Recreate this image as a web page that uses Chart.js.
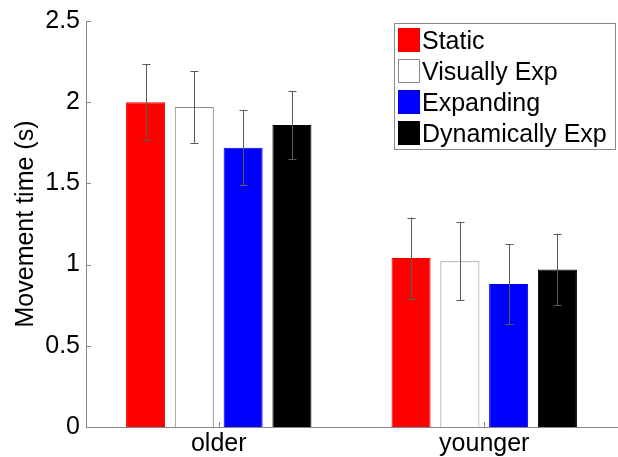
<!DOCTYPE html>
<html>
<head>
<meta charset="utf-8">
<script src="https://cdn.jsdelivr.net/npm/chart.js@4.4.0/dist/chart.umd.min.js"></script>
<style>
  html, body { margin: 0; padding: 0; background: #fff; }
  #wrap { width: 618px; height: 457px; }
</style>
</head>
<body>
<div id="wrap"><canvas id="chart" width="618" height="457"></canvas></div>
<script>
// categories et séries
var groups = ["older", "younger"];
var seriesNames = ["Static", "Visually Exp", "Expanding", "Dynamically Exp"];
var staticVals = [2.00, 1.04];
var visualVals = [1.97, 1.02];
var expandVals = [1.72, 0.88];
var dynamicVals = [1.86, 0.97];
// erreurs (demi-hauteur des barres d'erreur)
var staticErr = [0.235, 0.25];
var visualErr = [0.22, 0.24];
var expandErr = [0.23, 0.245];
var dynamicErr = [0.21, 0.22];
var yTicks = [0, 0.5, 1, 1.5, 2, 2.5];

var fills = ["#ff0000", "#ffffff", "#0000ff", "#000000"];
var borders = ["#ee0000", "#8a8a8a", "#0000c8", "#000000"];
var allVals = [staticVals, visualVals, expandVals, dynamicVals];
var allErr = [staticErr, visualErr, expandErr, dynamicErr];

var FONT = "'Liberation Sans', Arial, sans-serif";

var datasets = seriesNames.map(function (name, i) {
  return {
    label: name,
    data: allVals[i],
    err: allErr[i],
    backgroundColor: fills[i],
    borderColor: borders[i],
    borderWidth: 1,
    barPercentage: 0.8,
    categoryPercentage: 0.735
  };
});

// barres d'erreur + petites graduations vers l'intérieur
var errorBars = {
  id: "errorBars",
  afterDatasetsDraw: function (chart) {
    var ctx = chart.ctx;
    var y = chart.scales.y;
    ctx.save();
    ctx.strokeStyle = "#5a5a5a";
    ctx.lineWidth = 1;
    chart.data.datasets.forEach(function (ds, di) {
      var meta = chart.getDatasetMeta(di);
      meta.data.forEach(function (bar, i) {
        var x = Math.round(bar.x) + 0.5;
        var top = y.getPixelForValue(ds.data[i] + ds.err[i]);
        var bot = y.getPixelForValue(ds.data[i] - ds.err[i]);
        ctx.beginPath();
        ctx.moveTo(x, top);
        ctx.lineTo(x, bot);
        ctx.moveTo(x - 4, Math.round(top) + 0.5);
        ctx.lineTo(x + 4, Math.round(top) + 0.5);
        ctx.moveTo(x - 4, Math.round(bot) + 0.5);
        ctx.lineTo(x + 4, Math.round(bot) + 0.5);
        ctx.stroke();
      });
    });
    // graduations
    var area = chart.chartArea;
    ctx.strokeStyle = "#888888";
    yTicks.forEach(function (v) {
      var py = Math.round(y.getPixelForValue(v)) + 0.5;
      ctx.beginPath();
      ctx.moveTo(area.left, py);
      ctx.lineTo(area.left + 5, py);
      ctx.stroke();
    });
    var xs = chart.scales.x;
    groups.forEach(function (g, i) {
      var px = Math.round(xs.getPixelForValue(i)) + 0.5;
      ctx.beginPath();
      ctx.moveTo(px, area.bottom);
      ctx.lineTo(px, area.bottom - 5);
      ctx.stroke();
    });
    ctx.restore();
  }
};

// légende dans le coin en haut à droite
var boxLegend = {
  id: "boxLegend",
  afterDraw: function (chart) {
    var ctx = chart.ctx;
    var left = 394, top = 23, w = 221, h = 126;
    ctx.save();
    ctx.fillStyle = "#ffffff";
    ctx.fillRect(left, top, w, h);
    ctx.strokeStyle = "#8a8a8a";
    ctx.lineWidth = 1;
    ctx.strokeRect(left + 0.5, top + 0.5, w, h);
    ctx.font = "25px " + FONT;
    ctx.textBaseline = "alphabetic";
    chart.data.datasets.forEach(function (ds, i) {
      var ry = top + 5 + i * 31;
      ctx.fillStyle = ds.backgroundColor;
      ctx.fillRect(398, ry, 22, 24);
      ctx.strokeStyle = ds.borderColor;
      ctx.strokeRect(398.5, ry + 0.5, 21, 23);
      ctx.fillStyle = "#000000";
      ctx.fillText(ds.label, 422, ry + 21);
    });
    ctx.restore();
  }
};

var ctx = document.getElementById("chart").getContext("2d");
var myChart = new Chart(ctx, {
  type: "bar",
  data: { labels: groups, datasets: datasets },
  plugins: [errorBars, boxLegend],
  options: {
    responsive: false,
    animation: false,
    layout: { padding: { top: 19, right: 1, left: 0, bottom: 0 } },
    plugins: {
      legend: { display: false },
      tooltip: { enabled: false }
    },
    scales: {
      x: {
        grid: { display: false, drawTicks: false },
        border: { display: true, color: "#888888", width: 1 },
        ticks: { color: "#000", font: { family: FONT, size: 25 }, padding: 2 },
        afterFit: function (s) { s.height = 30; }
      },
      y: {
        min: 0,
        max: 2.5,
        afterBuildTicks: function (s) {
          s.ticks = yTicks.map(function (v) { return { value: v }; });
        },
        grid: { display: false, drawTicks: false },
        border: { display: true, color: "#888888", width: 1 },
        ticks: {
          color: "#000",
          font: { family: FONT, size: 25 },
          padding: 6,
          callback: function (v) { return String(v); }
        },
        title: {
          display: true,
          text: "Movement time (s)",
          color: "#000",
          font: { family: FONT, size: 25 },
          padding: { top: 11, bottom: 0 }
        },
        afterFit: function (s) { s.width = 86; }
      }
    }
  }
});
</script>
</body>
</html>
